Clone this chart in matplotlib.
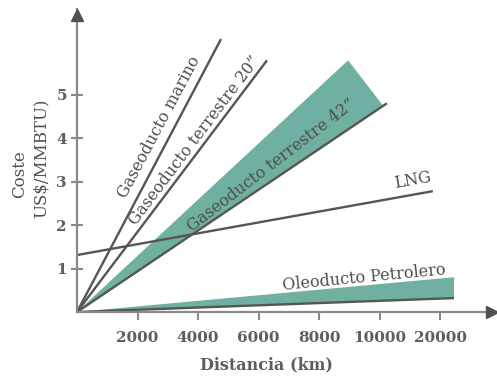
import matplotlib
matplotlib.use("Agg")
import matplotlib.pyplot as plt
from matplotlib.patches import Polygon

# ---- data (schematic chart, x in tick-index units) ----
distance_labels = ['2000', '4000', '6000', '8000', '10000', '20000']
distance_pos = [1, 2, 3, 4, 5, 6]
cost_ticks = [1, 2, 3, 4, 5]

marino_x = [0, 2.38]
marino_y = [0, 6.28]

terr20_x = [0, 3.14]
terr20_y = [0, 5.79]

terr42_upper_x = [0, 4.48]
terr42_upper_y = [0, 5.79]
terr42_corner_x = 5.06
terr42_corner_y = 4.74
terr42_lower_x = [0, 5.12]
terr42_lower_y = [0, 4.80]

lng_x = [0, 5.88]
lng_y = [1.31, 2.78]

oleo_x = [0, 6.23]
oleo_upper_y = [0, 0.80]
oleo_lower_y = [0, 0.32]

XMAX, YMAX = 6.94, 6.97

GREEN = '#6fb0a2'
LINE = '#555555'
AXIS = '#8a8a8a'
TXT = '#4f4f4f'
TXT_B = '#5e5e5e'

plt.rcParams['font.family'] = ['DejaVu Serif']

W, H = 497, 376
fig = plt.figure(figsize=(W / 100, H / 100), dpi=100)
ax = fig.add_axes([77 / W, (H - 312) / H, 420 / W, 303 / H])
ax.set_xlim(0, XMAX)
ax.set_ylim(0, YMAX)

# bands
ax.add_patch(Polygon([(0, 0), (terr42_upper_x[1], terr42_upper_y[1]),
                      (terr42_corner_x, terr42_corner_y)],
                     closed=True, facecolor=GREEN, edgecolor='none', zorder=2))
ax.add_patch(Polygon([(oleo_x[0], oleo_upper_y[0]), (oleo_x[1], oleo_upper_y[1]),
                      (oleo_x[1], oleo_lower_y[1]), (oleo_x[0], oleo_lower_y[0])],
                     closed=True, facecolor=GREEN, edgecolor='none', zorder=2))

lw = 1.7
ax.plot(marino_x, marino_y, color=LINE, lw=lw, zorder=3, solid_capstyle='butt')
ax.plot(terr20_x, terr20_y, color=LINE, lw=lw, zorder=3, solid_capstyle='butt')
ax.plot(terr42_lower_x, terr42_lower_y, color=LINE, lw=lw, zorder=3, solid_capstyle='butt')
ax.plot(lng_x, lng_y, color=LINE, lw=lw, zorder=3, solid_capstyle='butt')
ax.plot(oleo_x, oleo_lower_y, color=LINE, lw=lw, zorder=3, solid_capstyle='butt')

# axes styling
for s in ['top', 'right']:
    ax.spines[s].set_visible(False)
for s in ['left', 'bottom']:
    ax.spines[s].set_color(AXIS)
    ax.spines[s].set_linewidth(1.6)
    ax.spines[s].set_zorder(4)

ax.set_xticks(distance_pos)
ax.set_xticklabels(distance_labels, fontweight='bold')
ax.set_yticks(cost_ticks)
ax.set_yticklabels([str(v) for v in cost_ticks], fontweight='bold')
ax.tick_params(axis='x', direction='out', length=5.5, width=1.5, color=AXIS,
               labelsize=11, labelcolor=TXT_B, pad=8)
ax.tick_params(axis='y', direction='inout', length=8.5, width=1.5, color=AXIS,
               labelsize=11, labelcolor=TXT_B, pad=3)

# arrow heads
ax.plot([0], [YMAX - 0.13], marker='^', markersize=8, color='#505050',
        clip_on=False, zorder=5)
ax.plot([XMAX - 0.09], [0], marker='>', markersize=8, color='#505050',
        clip_on=False, zorder=5)

fs = 11.5
ax.text(1.36, 4.25, 'Gaseoducto marino', rotation=62, fontsize=fs, color=TXT,
        ha='center', va='center', rotation_mode='anchor', zorder=6)
ax.text(1.95, 3.95, 'Gaseoducto terrestre 20\u201d', rotation=53, fontsize=fs,
        color=TXT, ha='center', va='center', rotation_mode='anchor', zorder=6)
ax.text(3.22, 3.38, 'Gaseoducto terrestre 42\u201d', rotation=37.5, fontsize=fs,
        color=TXT, ha='center', va='center', rotation_mode='anchor', zorder=6)
ax.text(5.54, 3.03, 'LNG', rotation=10, fontsize=fs, color=TXT,
        ha='center', va='center', rotation_mode='anchor', zorder=6)
ax.text(4.74, 0.78, 'Oleoducto Petrolero', rotation=5.5, fontsize=fs, color=TXT,
        ha='center', va='center', rotation_mode='anchor', zorder=6)

fig.text(266 / W, 1 - 365 / H, 'Distancia (km)', fontsize=11.5, color=TXT_B,
         fontweight='bold', ha='center', va='center')
fig.text(20 / W, 1 - 174 / H, 'Coste', fontsize=12, color=TXT,
         ha='center', va='center', rotation=90)
fig.text(41 / W, 1 - 158 / H, 'US$/MMBTU)', fontsize=12, color=TXT,
         ha='center', va='center', rotation=90)

fig.savefig('out.png', dpi=100)
